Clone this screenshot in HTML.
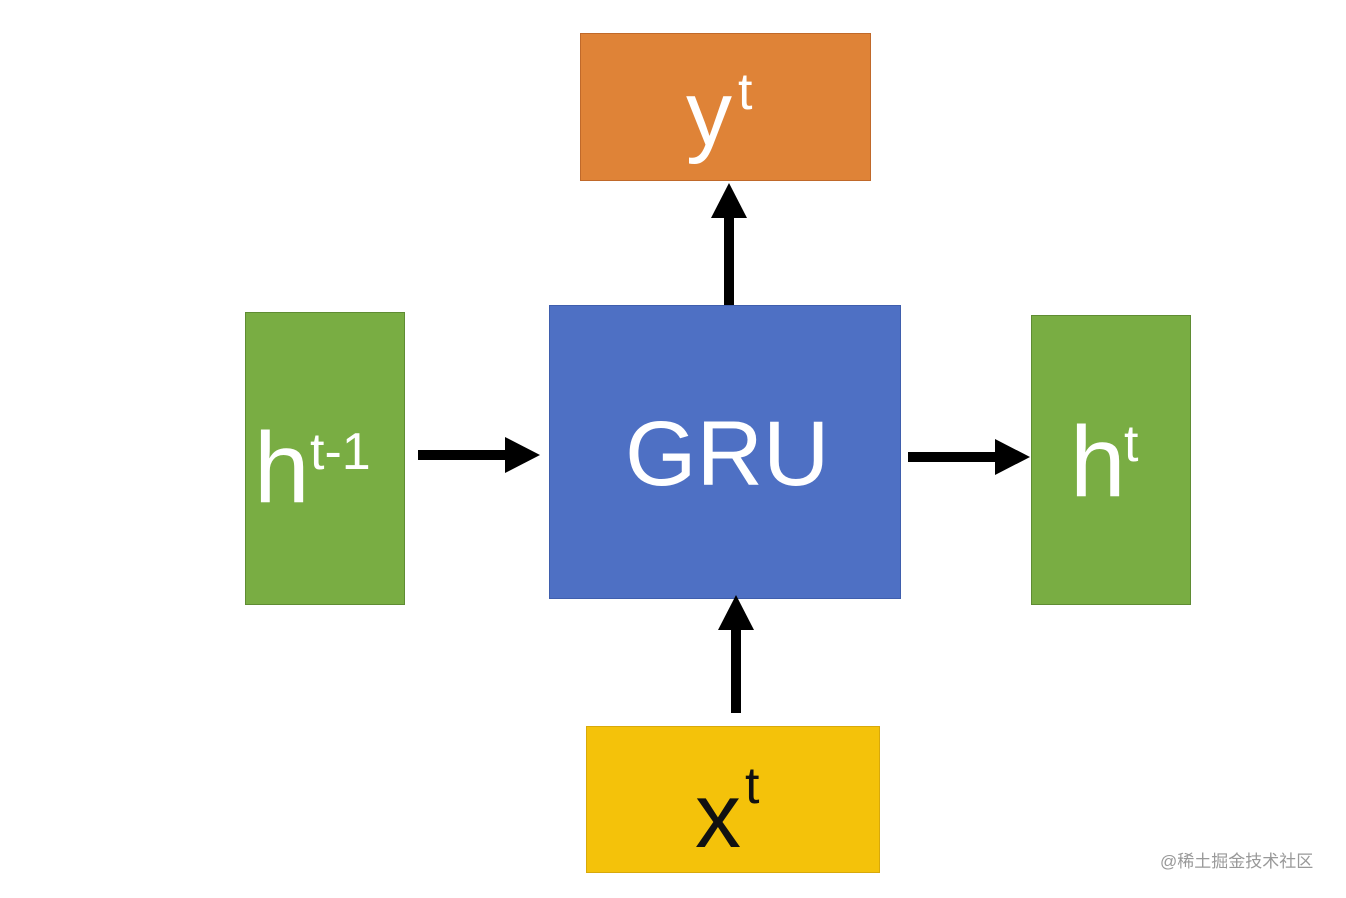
<!DOCTYPE html>
<html><head><meta charset="utf-8"><style>
body{margin:0;width:1346px;height:898px;background:#fff;position:relative;overflow:hidden;font-family:"Liberation Sans",sans-serif}
.b{position:absolute;box-sizing:border-box}
.t{position:absolute;white-space:nowrap;line-height:1}
</style></head><body>
<div class="b" style="left:580px;top:33px;width:291px;height:148px;background:#DF8337;border:1px solid #C0692A"></div>
<div class="b" style="left:549px;top:305px;width:352px;height:294px;background:#4E70C4;border:1px solid #3F5EAD"></div>
<div class="b" style="left:245px;top:312px;width:160px;height:293px;background:#79AD43;border:1px solid #5F8C33"></div>
<div class="b" style="left:1031px;top:315px;width:160px;height:290px;background:#79AD43;border:1px solid #5F8C33"></div>
<div class="b" style="left:586px;top:726px;width:294px;height:147px;background:#F4C20A;border:1px solid #D8A90A"></div>

<div class="t" style="left:686px;top:68px;font-size:92px;color:#fff">y</div>
<div class="t" style="left:738px;top:66px;font-size:52px;color:#fff">t</div>

<div class="t" style="left:625px;top:408px;font-size:92px;color:#fff">GRU</div>

<div class="t" style="left:254px;top:418px;font-size:100px;color:#fff">h</div>
<div class="t" style="left:310px;top:426px;font-size:52px;color:#fff">t-1</div>

<div class="t" style="left:1070px;top:412px;font-size:100px;color:#fff">h</div>
<div class="t" style="left:1124px;top:418px;font-size:52px;color:#fff">t</div>

<div class="t" style="left:695px;top:770px;font-size:92px;color:#111">x</div>
<div class="t" style="left:745px;top:760px;font-size:52px;color:#111">t</div>

<svg width="1346" height="898" style="position:absolute;left:0;top:0">
<g fill="#000">
<rect x="418" y="450" width="90" height="10"/><polygon points="505,437 540,455 505,473"/>
<rect x="908" y="452" width="90" height="10"/><polygon points="995,439 1030,457 995,475"/>
<rect x="724" y="215" width="10" height="90"/><polygon points="711,218 729,183 747,218"/>
<rect x="731" y="628" width="10" height="85"/><polygon points="718,630 736,595 754,630"/>
</g>
</svg>
<div class="t" style="left:1160px;top:853px;font-size:17px;color:#999;font-family:'Liberation Sans','Noto Sans CJK SC',sans-serif">@稀土掘金技术社区</div>
</body></html>
